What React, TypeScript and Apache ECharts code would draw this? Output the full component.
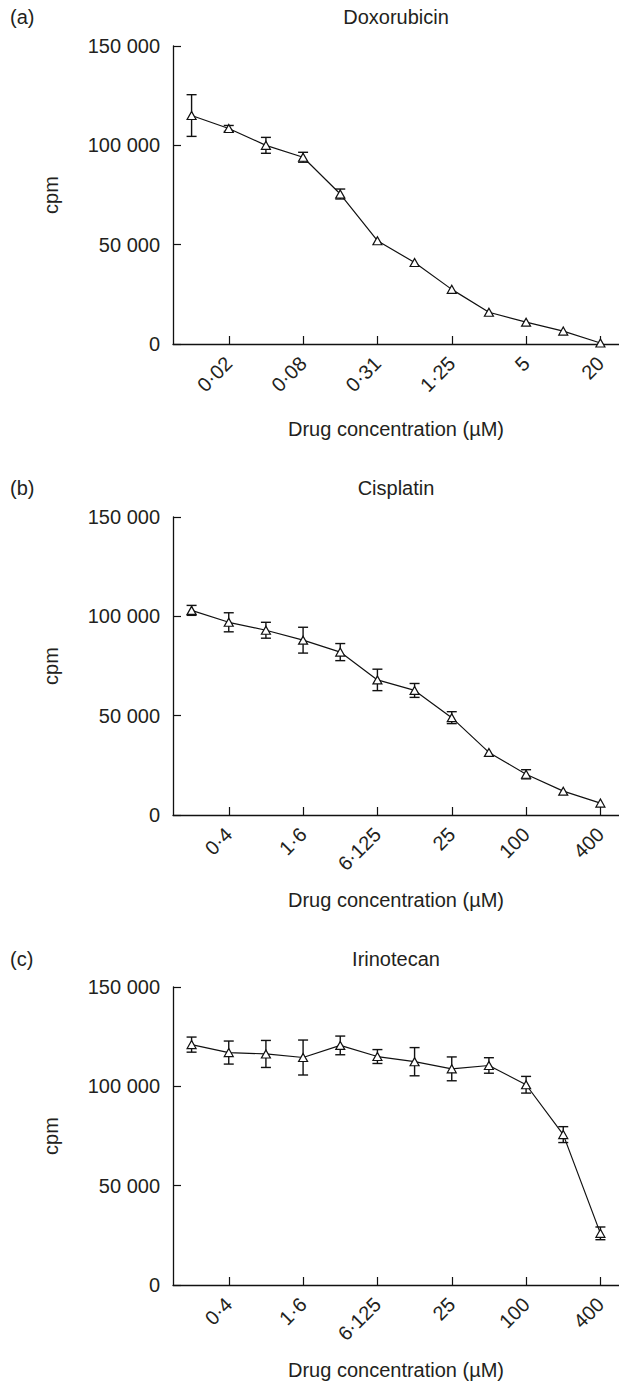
import React, { useEffect, useRef } from "react";
import * as echarts from "echarts";

// ---------- data ----------
const doxoCategories = ["0·01", "0·02", "0·04", "0·08", "0·16", "0·31", "0·625", "1·25", "2·5", "5", "10", "20"];
const doxoValues = [115000, 108500, 100000, 94000, 75500, 52000, 41000, 27500, 16000, 11000, 6500, 500];
const doxoErrors = [10500, 1500, 4000, 2500, 2500, 0, 0, 0, 0, 0, 0, 0];

const cisCategories = ["0·2", "0·4", "0·8", "1·6", "3·2", "6·125", "12·5", "25", "50", "100", "200", "400"];
const cisValues = [103000, 97000, 93000, 88000, 82000, 68000, 62700, 49000, 31500, 20500, 12000, 6000];
const cisErrors = [2500, 4800, 4000, 6500, 4300, 5400, 3500, 3000, 0, 2300, 0, 0];

const iriCategories = ["0·2", "0·4", "0·8", "1·6", "3·2", "6·125", "12·5", "25", "50", "100", "200", "400"];
const iriValues = [121000, 117000, 116300, 114500, 120600, 115000, 112400, 108800, 110500, 100800, 75700, 26000];
const iriErrors = [3800, 5800, 6800, 8800, 4700, 3500, 7100, 6000, 3900, 4200, 4000, 3200];

const panelLetters = ["(a)", "(b)", "(c)"];
const panelTitles = ["Doxorubicin", "Cisplatin", "Irinotecan"];
const yTicks = { min: 0, max: 150000, interval: 50000 };
const xAxisTitle = "Drug concentration (µM)";
const yAxisTitle = "cpm";

// ---------- layout ----------
const W = 619;
const H = 1384;
const FONT = '"Liberation Sans", Arial, Helvetica, sans-serif';
const TXT = "#231f20";
const FS = 20;
const gridLeft = 173;
const panelTops = [46, 517, 987];
const headerYs = [17, 488, 959];
const gridHeight = 298;

function fmt(v: number): string {
  return String(v).replace(/\B(?=(\d{3})+(?!\d))/g, " ");
}

const labelEvery = (i: number) => i % 2 === 1;

export default function App() {
  const ref = useRef<HTMLDivElement>(null);

  useEffect(() => {
    if (!ref.current) return;
    const chart = echarts.init(ref.current, undefined, { renderer: "svg", width: W, height: H });

    const panels = [
      { cats: doxoCategories, vals: doxoValues, errs: doxoErrors },
      { cats: cisCategories, vals: cisValues, errs: cisErrors },
      { cats: iriCategories, vals: iriValues, errs: iriErrors },
    ];

    const grids: any[] = [];
    const xAxes: any[] = [];
    const yAxes: any[] = [];
    const series: any[] = [];
    const graphics: any[] = [];

    panels.forEach((p, k) => {
      grids.push({ left: gridLeft, right: 0, top: panelTops[k], height: gridHeight, containLabel: false });
      xAxes.push({
        type: "category",
        gridIndex: k,
        data: p.cats,
        boundaryGap: true,
        axisLine: { show: true, onZero: false, lineStyle: { color: "#111", width: 1.3 } },
        axisTick: { show: true, inside: true, length: 8, alignWithLabel: true, interval: labelEvery, lineStyle: { color: "#111", width: 1.2 } },
        axisLabel: { interval: labelEvery, rotate: 45, margin: 16, color: TXT, fontSize: FS, fontFamily: FONT },
        splitLine: { show: false },
        name: xAxisTitle,
        nameLocation: "middle",
        nameGap: 75,
        nameTextStyle: { color: TXT, fontSize: FS, fontFamily: FONT },
      });
      yAxes.push({
        type: "value",
        gridIndex: k,
        min: yTicks.min,
        max: yTicks.max,
        interval: yTicks.interval,
        axisLine: { show: true, lineStyle: { color: "#111", width: 1.3 } },
        axisTick: { show: true, inside: true, length: 8, lineStyle: { color: "#111", width: 1.2 } },
        axisLabel: { margin: 13, color: TXT, fontSize: FS, fontFamily: FONT, formatter: (v: number) => fmt(v) },
        splitLine: { show: false },
        name: yAxisTitle,
        nameLocation: "middle",
        nameGap: 112,
        nameTextStyle: { color: TXT, fontSize: FS, fontFamily: FONT },
      });

      series.push({
        type: "custom",
        xAxisIndex: k,
        yAxisIndex: k,
        z: 2,
        encode: { x: 0, y: [1, 2] },
        data: p.vals.map((v, i) => [i, v - p.errs[i], v + p.errs[i], p.errs[i]]),
        renderItem: (params: any, api: any) => {
          const err = api.value(3);
          if (!err) return { type: "group", children: [] };
          const i = api.value(0);
          const lo = api.coord([i, api.value(1)]);
          const hi = api.coord([i, api.value(2)]);
          const cw = 5;
          const st = { stroke: "#111", lineWidth: 1.4 };
          return {
            type: "group",
            children: [
              { type: "line", shape: { x1: hi[0], y1: hi[1], x2: lo[0], y2: lo[1] }, style: st },
              { type: "line", shape: { x1: hi[0] - cw, y1: hi[1], x2: hi[0] + cw, y2: hi[1] }, style: st },
              { type: "line", shape: { x1: lo[0] - cw, y1: lo[1], x2: lo[0] + cw, y2: lo[1] }, style: st },
            ],
          };
        },
      });

      series.push({
        type: "line",
        xAxisIndex: k,
        yAxisIndex: k,
        z: 3,
        data: p.vals,
        symbol: "triangle",
        symbolSize: [9, 8],
        showAllSymbol: true,
        lineStyle: { color: "#111", width: 1.2 },
        itemStyle: { color: "#fff", borderColor: "#111", borderWidth: 1.2 },
        emphasis: { disabled: true },
      });

      graphics.push({
        type: "text",
        x: 10,
        y: headerYs[k],
        style: { text: panelLetters[k], fill: TXT, fontSize: FS, fontFamily: FONT, align: "left", verticalAlign: "middle" },
      });
      graphics.push({
        type: "text",
        x: gridLeft + (W - gridLeft) / 2,
        y: headerYs[k],
        style: { text: panelTitles[k], fill: TXT, fontSize: FS, fontFamily: FONT, align: "center", verticalAlign: "middle" },
      });
    });

    chart.setOption({
      animation: false,
      backgroundColor: "#fff",
      grid: grids,
      xAxis: xAxes,
      yAxis: yAxes,
      series,
      graphic: graphics,
    });

    return () => chart.dispose();
  }, []);

  return <div ref={ref} style={{ position: "absolute", left: 0, top: 0, width: W, height: H }} />;
}
